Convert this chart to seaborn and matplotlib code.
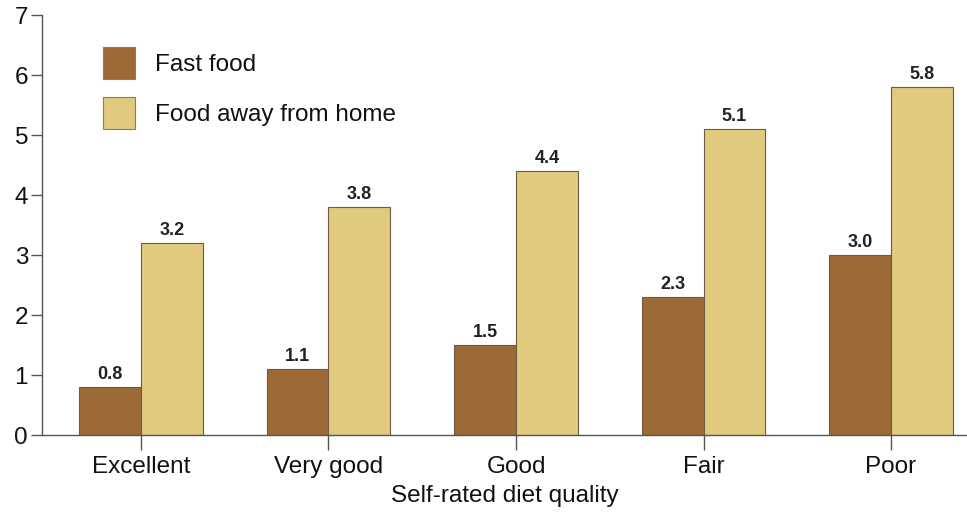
import pandas as pd
import matplotlib.pyplot as plt
import seaborn as sns

# data
categories = ["Excellent", "Very good", "Good", "Fair", "Poor"]
fast_food = [0.8, 1.1, 1.5, 2.3, 3.0]
away_from_home = [3.2, 3.8, 4.4, 5.1, 5.8]
series_names = ["Fast food", "Food away from home"]
colors = ["#9C6A36", "#E1CA7E"]

df = pd.DataFrame({
    "quality": categories * 2,
    "value": fast_food + away_from_home,
    "series": [series_names[0]] * len(categories) + [series_names[1]] * len(categories),
})

sns.set_style("white")
plt.rcParams["font.family"] = ["Liberation Sans", "DejaVu Sans"]
plt.rcParams["text.color"] = "#111111"

fig = plt.figure(figsize=(9.67, 5.18), dpi=100)
ax = fig.add_axes([0.0434, 0.160, 0.9566, 0.811])

sns.barplot(data=df, x="quality", y="value", hue="series", order=categories,
            hue_order=series_names, palette=colors, width=0.66, gap=0,
            edgecolor="#6b5a45", linewidth=0.8, saturation=1, ax=ax)

for cont in ax.containers:
    ax.bar_label(cont, fmt="%.1f", padding=3, fontsize=13, fontweight="bold", color="#222222")

ax.set_ylim(0, 7)
ax.set_xlim(-0.528, 4.405)
ax.set_yticks(range(0, 8))
ax.tick_params(axis="y", left=True, direction="out", length=8, width=1, color="#555555",
               labelsize=17.5, labelcolor="#111111", pad=2)
ax.tick_params(axis="x", bottom=True, direction="out", length=11, width=1, color="#555555",
               labelsize=17.5, labelcolor="#111111", pad=4)
ax.set_xlabel("Self-rated diet quality", fontsize=17.5, labelpad=5, color="#111111")
ax.set_ylabel("")

sns.despine(ax=ax, top=True, right=True)
for s in ["left", "bottom"]:
    ax.spines[s].set_color("#555555")
    ax.spines[s].set_linewidth(1)

leg = ax.legend(loc="upper left", bbox_to_anchor=(0.1065, 0.910), bbox_transform=fig.transFigure,
                frameon=False, fontsize=17.5, borderpad=0, borderaxespad=0,
                handlelength=1.32, handleheight=1.65, labelspacing=0.75, handletextpad=0.8)
for h in leg.legend_handles:
    h.set_edgecolor("#8a7a66")

fig.savefig("out.png", dpi=100)
